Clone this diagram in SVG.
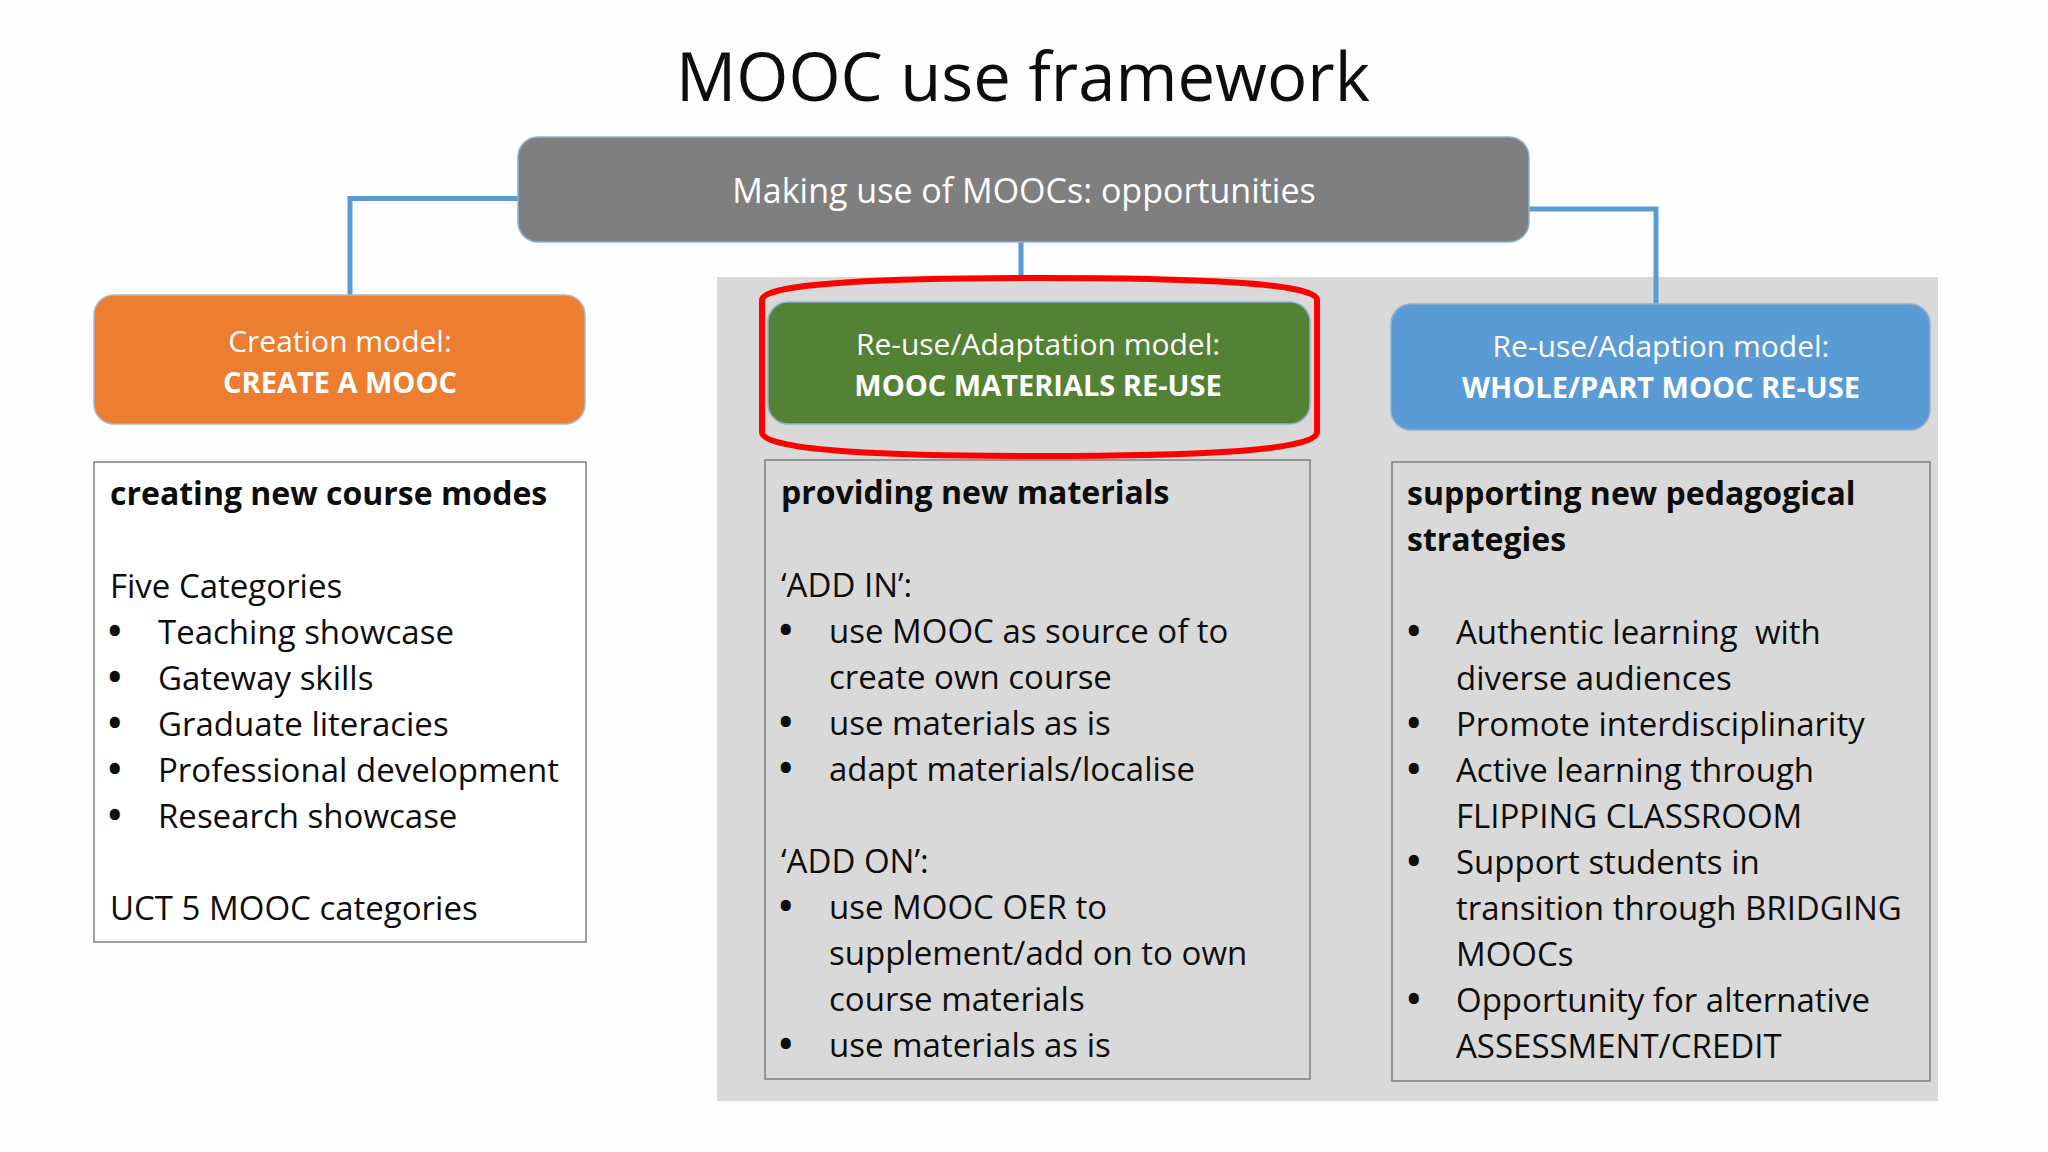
<svg xmlns="http://www.w3.org/2000/svg" width="2048" height="1152" viewBox="0 0 2048 1152">
  <style>
    text { font-family: "Open Sans", "Liberation Sans", sans-serif; }
    .title { font-size: 67px; fill: #0d0d0d; text-anchor: middle; }
    .hdr { font-size: 34px; fill: #ffffff; text-anchor: middle; }
    .box-t { font-size: 30px; fill: #ffffff; text-anchor: middle; }
    .box-b { font-size: 29px; fill: #ffffff; text-anchor: middle; font-weight: bold; }
    .body { font-size: 33px; fill: #0d0d0d; }
    .bul { font-size: 36px; font-weight: bold; fill: #0d0d0d; }
    .bold { font-size: 32px; font-weight: bold; fill: #0d0d0d; }
    .conn { fill: none; stroke: #5B9BD5; stroke-width: 5; }
    .card { stroke: #7f7f7f; stroke-width: 1.5; }
  </style>
  <rect x="0" y="0" width="2048" height="1152" fill="#fefefe"/>

  <text class="title" x="1023" y="101">MOOC use framework</text>

  <!-- shaded panel behind the two re-use columns -->
  <rect id="panel" x="717" y="277" width="1221" height="824" fill="#d9d9d9"/>

  <g id="connectors">
    <polyline class="conn" points="520,198.5 350,198.5 350,296"/>
    <line class="conn" x1="1021" y1="242" x2="1021" y2="277"/>
    <polyline class="conn" points="1528,209 1656,209 1656,305"/>
  </g>

  <g id="root">
    <rect x="518" y="137" width="1011" height="105" rx="20" fill="#7f7f7f" stroke="#8eb0d4" stroke-width="1.5"/>
    <text class="hdr" x="1024" y="203">Making use of MOOCs: opportunities</text>
  </g>

  <g id="creation">
    <rect x="94" y="295" width="491" height="129" rx="20" fill="#ED7D31" stroke="#a9b8c8" stroke-width="1.5"/>
    <text class="box-t" x="340" y="352">Creation model:</text>
    <text class="box-b" x="340" y="393">CREATE A MOOC</text>
  </g>

  <g id="materials">
    <rect x="768" y="302" width="542" height="122" rx="20" fill="#548235" stroke="#8eb0d4" stroke-width="1.5"/>
    <text class="box-t" x="1038" y="355">Re-use/Adaptation model:</text>
    <text class="box-b" x="1038" y="396">MOOC MATERIALS RE-USE</text>
    <path d="M 762,300 C 762,282 900,278 1040,278 C 1180,278 1317,282 1317,300 L 1317,432 C 1317,452 1180,456 1040,456 C 900,456 762,452 762,432 Z" fill="none" stroke="#ff0000" stroke-width="6"/>
  </g>

  <g id="whole">
    <rect x="1391" y="304" width="539" height="126" rx="20" fill="#5B9BD5" stroke="#8eb0d4" stroke-width="1.5"/>
    <text class="box-t" x="1661" y="357">Re-use/Adaption model:</text>
    <text class="box-b" x="1661" y="398">WHOLE/PART MOOC RE-USE</text>
  </g>

  <g id="creation-detail">
    <rect class="card" x="94" y="462" width="492" height="480" fill="#ffffff" stroke="#a6a6a6"/>
    <text class="bold" x="110" y="505">creating new course modes</text>
    <text class="body" x="110" y="598">Five Categories</text>
    <text class="bul" x="108" y="644">•</text><text class="body" x="158" y="644">Teaching showcase</text>
    <text class="bul" x="108" y="690">•</text><text class="body" x="158" y="690">Gateway skills</text>
    <text class="bul" x="108" y="736">•</text><text class="body" x="158" y="736">Graduate literacies</text>
    <text class="bul" x="108" y="782">•</text><text class="body" x="158" y="782">Professional development</text>
    <text class="bul" x="108" y="828">•</text><text class="body" x="158" y="828">Research showcase</text>
    <text class="body" x="110" y="920">UCT 5 MOOC categories</text>
  </g>

  <g id="materials-detail">
    <rect class="card" x="765" y="460" width="545" height="619" fill="#d9d9d9"/>
    <text class="bold" x="781" y="504">providing new materials</text>
    <text class="body" x="781" y="597">‘ADD IN’:</text>
    <text class="bul" x="779" y="643">•</text><text class="body" x="829" y="643">use MOOC as source of to</text>
    <text class="body" x="829" y="689">create own course</text>
    <text class="bul" x="779" y="735">•</text><text class="body" x="829" y="735">use materials as is</text>
    <text class="bul" x="779" y="781">•</text><text class="body" x="829" y="781">adapt materials/localise</text>
    <text class="body" x="781" y="873">‘ADD ON’:</text>
    <text class="bul" x="779" y="919">•</text><text class="body" x="829" y="919">use MOOC OER to</text>
    <text class="body" x="829" y="965">supplement/add on to own</text>
    <text class="body" x="829" y="1011">course materials</text>
    <text class="bul" x="779" y="1057">•</text><text class="body" x="829" y="1057">use materials as is</text>
  </g>

  <g id="whole-detail">
    <rect class="card" x="1392" y="462" width="538" height="619" fill="#d9d9d9"/>
    <text class="bold" x="1407" y="505">supporting new pedagogical</text>
    <text class="bold" x="1407" y="551">strategies</text>
    <text class="bul" x="1407" y="644">•</text><text class="body" x="1456" y="644" xml:space="preserve">Authentic learning  with</text>
    <text class="body" x="1456" y="690">diverse audiences</text>
    <text class="bul" x="1407" y="736">•</text><text class="body" x="1456" y="736">Promote interdisciplinarity</text>
    <text class="bul" x="1407" y="782">•</text><text class="body" x="1456" y="782">Active learning through</text>
    <text class="body" x="1456" y="828">FLIPPING CLASSROOM</text>
    <text class="bul" x="1407" y="874">•</text><text class="body" x="1456" y="874">Support students in</text>
    <text class="body" x="1456" y="920">transition through BRIDGING</text>
    <text class="body" x="1456" y="966">MOOCs</text>
    <text class="bul" x="1407" y="1012">•</text><text class="body" x="1456" y="1012">Opportunity for alternative</text>
    <text class="body" x="1456" y="1058">ASSESSMENT/CREDIT</text>
  </g>
</svg>
